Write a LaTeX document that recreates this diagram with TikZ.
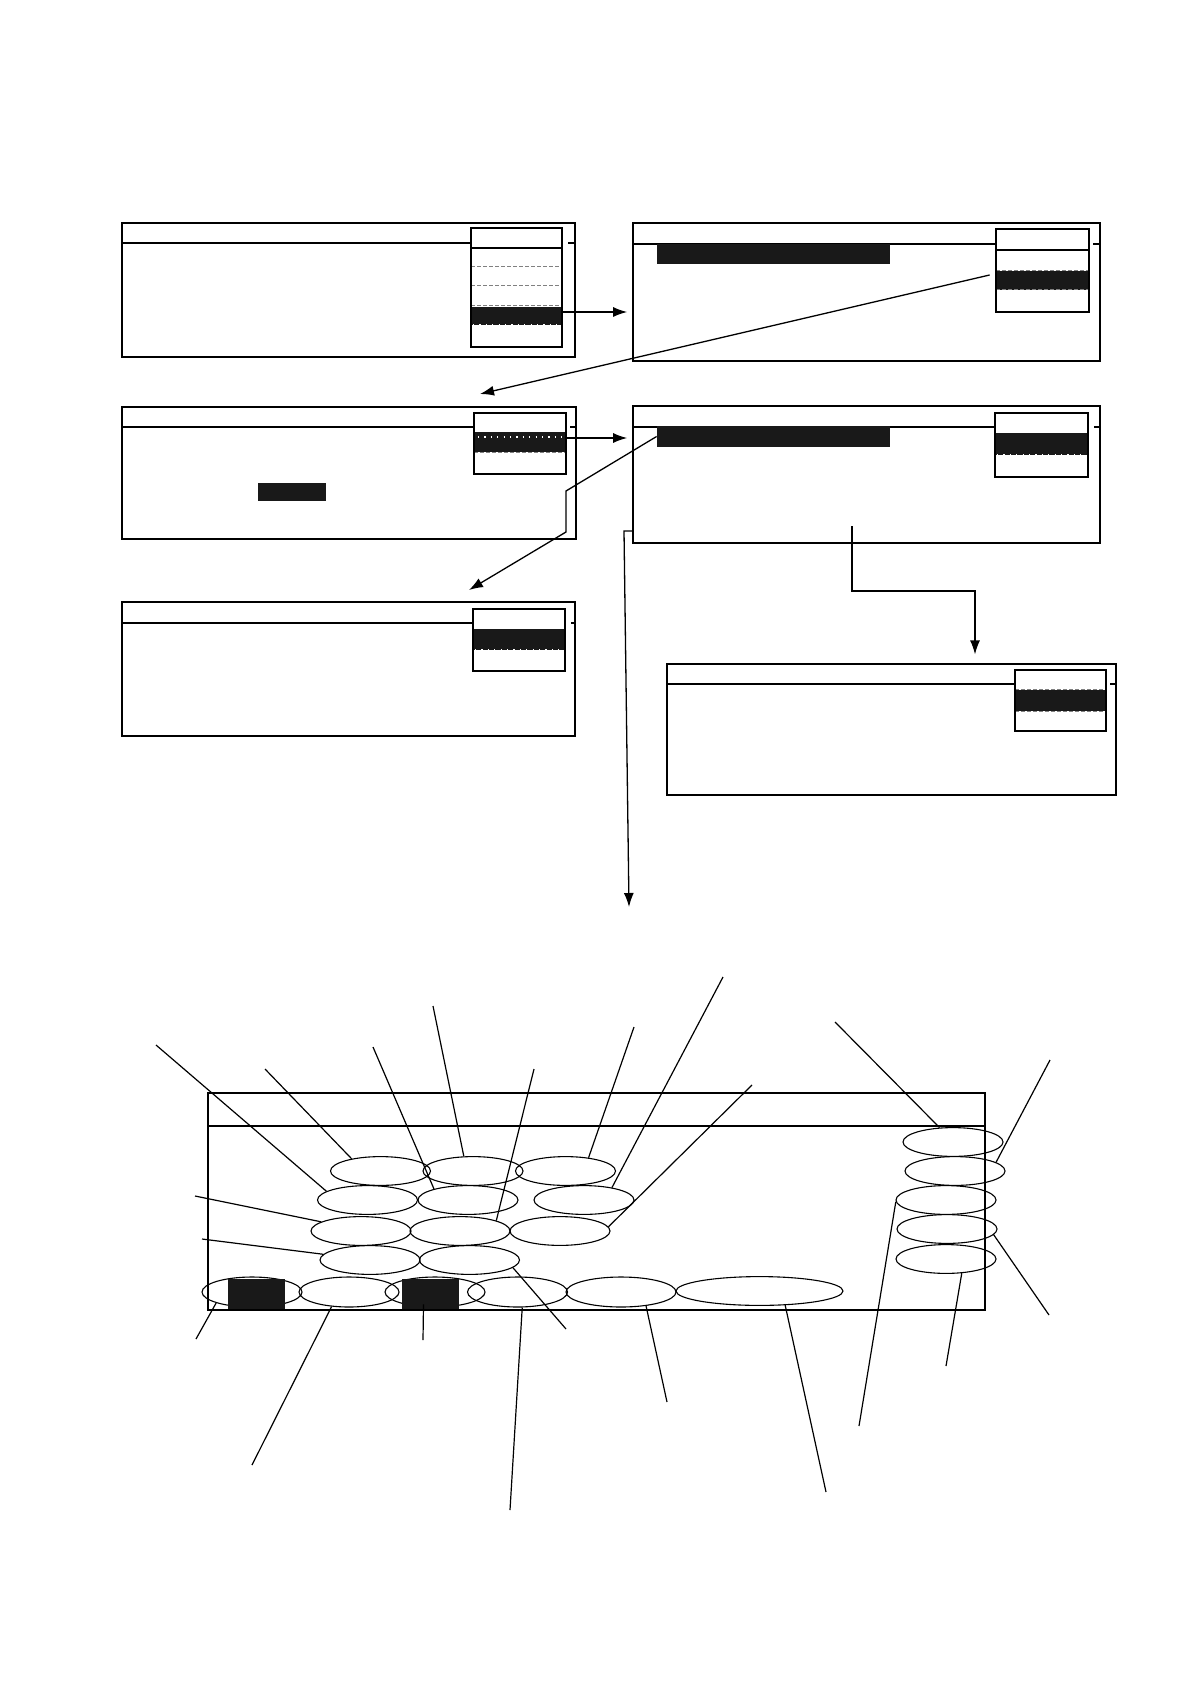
\documentclass[tikz,border=0pt]{standalone}
\usetikzlibrary{shapes.geometric,fit,arrows.meta,calc}
\begin{document}
\begin{tikzpicture}[x=0.5pt,y=-0.5pt,
  win/.style={draw,line width=0.85pt,inner sep=0pt},
  hdr/.style={line width=0.85pt},
  menubox/.style={draw,line width=1.1pt,inner sep=0pt},
  mline/.style={line width=0.8pt},
  band/.style={fill=black!90,draw=none,inner sep=0pt},
  gdash/.style={draw=gray,line width=0.5pt,dash pattern=on 2pt off 1pt},
  wdot/.style={draw=white,line width=0.7pt,dash pattern=on 0.6pt off 2.6pt},
  oval/.style={draw,ellipse,line width=0.55pt,inner sep=0pt,minimum width=50pt,minimum height=14.4pt},
  scr/.style={draw,line width=1.4pt,inner sep=0pt},
  conn/.style={line width=0.65pt},
  lead/.style={line width=0.6pt},
  arr/.style={conn,-{Latex[length=7pt,width=5pt]}}
]
\fill[white] (0,0) rectangle (1190,1684);
\useasboundingbox (0,0) rectangle (1190,1684);

% ---------- window 1 ----------
\node[win,fit={(122,223)(575,357)}] (w1) {};
\draw[hdr] (122,243) -- (471,243);
\draw[hdr] (568,243) -- (575,243);
\node[band,fit={(471,307)(562,325)}] (b1) {};
\draw[gdash] (471,267) -- (562,267);
\draw[gdash] (471,286) -- (562,286);
\draw[gdash] (471,306) -- (562,306);
\draw[wdot] (473,325) -- (560,325);
\draw[mline] (471,248) -- (562,248);
\node[menubox,fit={(471,228)(562,347)}] (m1) {};

% ---------- window 2 ----------
\node[win,fit={(633,223)(1100,361)}] (w2) {};
\draw[hdr] (633,244) -- (996,244);
\draw[hdr] (1093,244) -- (1100,244);
\node[band,fit={(657,244)(890,264)}] (bar2) {};
\node[band,fit={(996,271)(1089,290)}] (b2) {};
\draw[gdash] (996,271) -- (1089,271);
\draw[gdash] (996,290) -- (1089,290);
\draw[mline] (996,250) -- (1089,250);
\node[menubox,fit={(996,229)(1089,312)}] (m2) {};

% ---------- window 3 ----------
\node[win,fit={(122,407)(576,539)}] (w3) {};
\draw[hdr] (122,427) -- (474,427);
\draw[hdr] (570,427) -- (576,427);
\node[band,fit={(474,432)(566,452)}] (b3) {};
\draw[wdot] (478,437) -- (564,437);
\draw[gdash] (474,452) -- (566,452);
\node[menubox,fit={(474,413)(566,474)}] (m3) {};
\node[band,fit={(258,483)(326,501)}] (r3) {};

% ---------- window 4 ----------
\node[win,fit={(633,406)(1100,543)}] (w4) {};
\draw[hdr] (633,427) -- (995,427);
\draw[hdr] (1094,427) -- (1100,427);
\node[band,fit={(657,426)(890,447)}] (bar4) {};
\node[band,fit={(995,433)(1088,455)}] (b4) {};
\draw[wdot] (997,455) -- (1086,455);
\node[menubox,fit={(995,413)(1088,477)}] (m4) {};

% ---------- window 5 ----------
\node[win,fit={(122,602)(575,736)}] (w5) {};
\draw[hdr] (122,623) -- (473,623);
\draw[hdr] (571,623) -- (575,623);
\node[band,fit={(473,629)(565,650)}] (b5) {};
\draw[wdot] (475,650) -- (563,650);
\node[menubox,fit={(473,609)(565,671)}] (m5) {};

% ---------- window 6 ----------
\node[draw,line width=0.6pt,inner sep=0pt,fit={(667,664)(1116,795)}] (w6) {};
\draw[hdr] (667,684) -- (1015,684);
\draw[hdr] (1110,684) -- (1116,684);
\node[band,fit={(1015,690)(1106,711)}] (b6) {};
\draw[gdash] (1015,689) -- (1106,689);
\draw[gdash] (1015,711) -- (1106,711);
\node[menubox,line width=0.9pt,fit={(1015,670)(1106,731)}] (m6) {};

% ---------- connectors between windows ----------
\draw[arr,shorten >=2.5pt] ([yshift=2pt]b1.east) -- ([yshift=2pt]b1.east -| w2.west);
\coordinate (t2) at (480,394);
\draw[arr] ([xshift=-3pt,yshift=2.75pt]b2.west) -- (t2);
\draw[arr,shorten >=2.5pt] ([yshift=2pt]b3.east) -- ([yshift=2pt]b3.east -| w4.west);
\coordinate (k1) at (566,491);
\coordinate (k2) at (566,532);
\coordinate (t4) at (469,590);
\draw[arr] (bar4.west) -- (k1) -- (k2) -- (t4);
\coordinate (k3) at (624,531);
\coordinate (t5) at (629,907);
\draw[arr] (k3 -| w4.west) -- (k3) -- (t5);
\coordinate (k4) at (852,526);
\coordinate (k5) at (852,591);
\coordinate (k6) at (975,591);
\draw[arr,shorten >=4.5pt] (k4) -- (k5) -- (k6) -- (k6 |- w6.north);

% ---------- bottom screen ----------
\node[oval] (e1) at (380.5,1171) {};
\node[oval] (e2) at (473,1171) {};
\node[oval] (e3) at (565.5,1171) {};
\node[oval] (e4) at (367.5,1200) {};
\node[oval] (e5) at (468,1200) {};
\node[oval] (e6) at (584,1200) {};
\node[oval] (e7) at (361,1231) {};
\node[oval] (e8) at (460,1231) {};
\node[oval] (e9) at (560,1231) {};
\node[oval] (e10) at (370,1260) {};
\node[oval] (e11) at (469.5,1260) {};
\node[oval,minimum height=15pt] (e12) at (252,1292) {};
\node[oval,minimum height=15pt] (e13) at (349,1292) {};
\node[oval,minimum height=15pt] (e14) at (435,1292) {};
\node[oval,minimum height=15pt] (e15) at (517.5,1292) {};
\node[oval,minimum height=15pt,minimum width=55pt] (e16) at (621,1292) {};
\node[oval,minimum width=83.5pt] (e17) at (759.5,1291) {};
\node[oval] (e18) at (953,1142) {};
\node[oval] (e19) at (955,1171) {};
\node[oval] (e20) at (946,1200) {};
\node[oval] (e21) at (947,1229) {};
\node[oval] (e22) at (946,1259) {};
\node[band,fit={(228,1279)(285,1310)}] (r1) {};
\node[band,fit={(402,1279)(459,1310)}] (r2) {};
\node[scr,fit={(208,1093)(985,1310)}] (s) {};
\draw[line width=0.75pt] (208,1126) -- (985,1126);

% ---------- leader lines ----------
\coordinate (p4) at (156,1045);
\coordinate (p1) at (265,1069);
\coordinate (p5) at (373,1047);
\coordinate (p2) at (433,1006);
\coordinate (p8) at (534,1069);
\coordinate (p3) at (634,1027);
\coordinate (p6) at (723,977);
\coordinate (p9) at (752,1085);
\coordinate (p18) at (835,1022);
\coordinate (p19) at (1050,1060);
\coordinate (p7) at (195,1196);
\coordinate (p10) at (202,1239);
\coordinate (p11) at (566,1329);
\coordinate (p12) at (196,1339);
\coordinate (p13) at (252,1465);
\coordinate (pr2) at (423,1340);
\coordinate (p15) at (510,1510);
\coordinate (p16) at (667,1402);
\coordinate (p17) at (826,1492);
\coordinate (p20) at (859,1426);
\coordinate (p21) at (1049,1315);
\coordinate (p22) at (946,1366);

\draw[lead] (p4) -- (e4.168);
\draw[lead] (p1) -- (e1.157);
\draw[lead] (p5) -- (e5.162);
\draw[lead] (p2) -- (e2.122);
\draw[lead] (p8) -- (e8.16);
\draw[lead] (p3) -- (e3.30);
\draw[lead] (p6) -- (e6.24);
\draw[lead] (p9) -- (e9.5);
\draw[lead] (p18) -- (e18.133);
\draw[lead] (p19) -- (e19.12);
\draw[lead] (p7) -- (e7.167);
\draw[lead] (p10) -- (e10.173);
\draw[lead] (e11.-10) -- (p11);
\draw[lead] (e12.-163) -- (p12);
\draw[lead] (e13.220) -- (p13);
\draw[lead] ([xshift=-3.5pt,yshift=3pt]r2.south) -- (pr2);
\draw[lead] (e15.-73) -- (p15);
\draw[lead] (e16.-29) -- (p16);
\draw[lead] (e17.-29) -- (p17);
\draw[lead] (e20.182) -- (p20);
\draw[lead] (e21.-7) -- (p21);
\draw[lead] (e22.-42) -- (p22);
\end{tikzpicture}
\end{document}
